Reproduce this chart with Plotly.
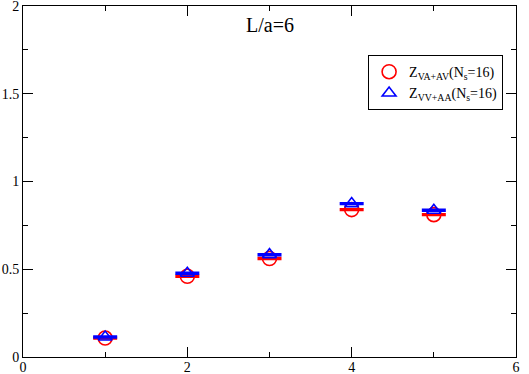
import plotly.graph_objects as go

X = [1, 2, 3, 4, 5]
Z_VA_AV = [0.108, 0.460, 0.561, 0.840, 0.811]
Z_VV_AA = [0.114, 0.477, 0.583, 0.874, 0.836]
ERR_VA_AV = [0.004, 0.004, 0.004, 0.004, 0.004]
ERR_VV_AA = [0.004, 0.004, 0.004, 0.004, 0.004]

RED = "#ff0000"
BLUE = "#0000ff"
FONT = "Liberation Serif"

fig = go.Figure()
fig.add_trace(go.Scatter(
    x=X, y=Z_VA_AV, mode="markers",
    name="Z<sub>VA+AV</sub>(N<sub>s</sub>=16)",
    marker=dict(symbol="circle-open", size=14, color=RED, line=dict(width=1.6, color=RED)),
    error_y=dict(type="data", array=ERR_VA_AV, color=RED, thickness=2, width=12),
))
fig.add_trace(go.Scatter(
    x=X, y=Z_VV_AA, mode="markers",
    name="Z<sub>VV+AA</sub>(N<sub>s</sub>=16)",
    marker=dict(symbol="triangle-up-open", size=12, color=BLUE, line=dict(width=1.6, color=BLUE)),
    error_y=dict(type="data", array=ERR_VV_AA, color=BLUE, thickness=2, width=12),
))

fig.add_annotation(x=3, y=1.89, text="L/a=6", showarrow=False,
                   font=dict(family=FONT, size=20, color="black"), yanchor="middle")

axis_common = dict(
    showline=True, linecolor="black", linewidth=1, mirror="allticks",
    ticks="inside", ticklen=10, tickwidth=1, tickcolor="black",
    showgrid=False, zeroline=False, automargin=False,
    ticklabeloverflow="allow",
    tickfont=dict(family=FONT, size=14, color="black"),
)
fig.update_xaxes(range=[0, 6], tickvals=[0, 2, 4, 6],
                 minor=dict(tickvals=[1, 3, 5], ticks="inside", ticklen=5, tickcolor="black"),
                 ticklabelstandoff=-3, **axis_common)
fig.update_yaxes(range=[0, 2], tickvals=[0, 0.5, 1, 1.5, 2],
                 minor=dict(tickvals=[0.25, 0.75, 1.25, 1.75], ticks="inside", ticklen=5, tickcolor="black"),
                 **axis_common)

fig.update_layout(
    width=529, height=374,
    margin=dict(l=23, r=13, t=6, b=17),
    plot_bgcolor="white", paper_bgcolor="white",
    font=dict(family=FONT, color="black"),
    showlegend=True,
    legend=dict(x=0.70, y=0.86, xanchor="left", yanchor="top",
                bordercolor="black", borderwidth=1, bgcolor="white",
                font=dict(family=FONT, size=14, color="black"),
                tracegroupgap=0),
)

# page body has an 8px default margin; drop it so the figure sits at 0,0
fig.write_html("out.html", config={"displayModeBar": False},
               post_script="document.body.style.margin='0';")
